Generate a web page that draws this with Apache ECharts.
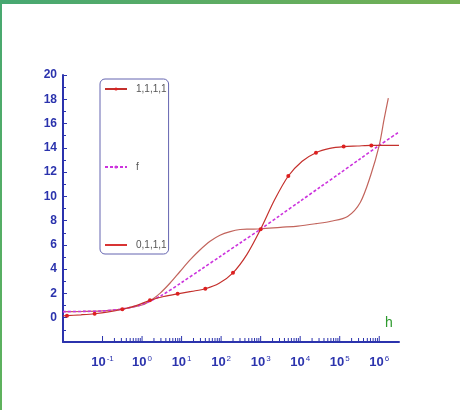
<!DOCTYPE html>
<html><head><meta charset="utf-8">
<script src="https://cdn.jsdelivr.net/npm/echarts@6/dist/echarts.min.js"></script>
<style>html,body{margin:0;padding:0;background:#fff}#c{width:460px;height:410px}</style>
</head><body><div id="c"></div>
<script>
// x values are log10(h)
const curveA_logH = [-2, -1.9, -1.55, -1.2, -0.85, -0.5, -0.15, 0.2, 0.55, 0.9, 1.25, 1.6, 1.95, 2.3, 2.65, 3.0, 3.35, 3.7, 4.05, 4.4, 4.75, 5.1, 5.45, 5.8, 6.15, 6.5];
const curveA_val  = [0.15, 0.17, 0.24, 0.33, 0.48, 0.7, 1.0, 1.43, 1.75, 1.97, 2.17, 2.39, 2.84, 3.7, 5.2, 7.3, 9.7, 11.68, 12.9, 13.6, 13.95, 14.1, 14.15, 14.2, 14.2, 14.2];
const curveA_dotLogH = [-1.9, -1.2, -0.5, 0.2, 0.9, 1.6, 2.3, 3.0, 3.7, 4.4, 5.1, 5.8];
const curveB_logH = [-2, -1.5, -1, -0.5, 0, 0.23, 0.46, 0.71, 0.96, 1.22, 1.47, 1.72, 1.97, 2.23, 2.48, 2.73, 3.0, 3.5, 3.94, 4.4, 4.78, 5.2, 5.52, 5.78, 6.0, 6.12, 6.23];
const curveB_val  = [0.5, 0.52, 0.56, 0.72, 1.05, 1.45, 2.03, 2.86, 3.81, 4.78, 5.6, 6.3, 6.8, 7.1, 7.27, 7.3, 7.33, 7.45, 7.55, 7.75, 7.95, 8.35, 9.5, 11.7, 14.2, 16.3, 18.1];
const curveF_logH = [-2, -1.5, -1, -0.5, 0, 0.5, 1, 1.5, 2, 2.5, 3, 3.5, 4, 4.5, 5, 5.5, 6, 6.5];
const curveF_val  = [0.5, 0.52, 0.56, 0.72, 1.1, 1.85, 2.9, 4.0, 5.1, 6.2, 7.3, 8.45, 9.6, 10.75, 11.9, 13.05, 14.2, 15.3];
const seriesNames = ['1,1,1,1', 'f', '0,1,1,1'];
const xDecadeExp = [-1, 0, 1, 2, 3, 4, 5, 6];
const xMinorMult = [2, 3, 4, 5, 6, 7, 8, 9];
const yTickLabels = [0, 2, 4, 6, 8, 10, 12, 14, 16, 18, 20];

const axisBlue = '#2b33ad';
const fontFam = 'Liberation Sans, Arial, sans-serif';

const dataA = curveA_logH.map((x, i) => curveA_dotLogH.indexOf(x) >= 0 ? [x, curveA_val[i]] : {value: [x, curveA_val[i]], symbol: 'none'});
const dataB = curveB_logH.map((x, i) => [x, curveB_val[i]]);
const dataF = curveF_logH.map((x, i) => [x, curveF_val[i]]);

const tickData = [];
xDecadeExp.forEach(e => {
  tickData.push([e, 1]);
  if (e < 6) xMinorMult.forEach(m => tickData.push([e + Math.log10(m), 0]));
});

const chart = echarts.init(document.getElementById('c'), null, {renderer: 'canvas'});
chart.setOption({
  animation: false,
  backgroundColor: '#ffffff',
  grid: {left: 63, right: 61, top: 75, bottom: 68, containLabel: false, outerBoundsMode: 'none'},
  graphic: [
    {type: 'rect', left: 0, top: 0, shape: {width: 460, height: 4}, silent: true,
     style: {fill: new echarts.graphic.LinearGradient(0, 0, 1, 0, [{offset: 0, color: '#47a872'}, {offset: 1, color: '#74b053'}])}},
    {type: 'rect', left: 0, top: 0, shape: {width: 2, height: 410}, silent: true,
     style: {fill: new echarts.graphic.LinearGradient(0, 0, 0, 1, [{offset: 0, color: '#48a870'}, {offset: 1, color: '#5fb25c'}])}}
  ],
  legend: {
    orient: 'vertical', left: 100, top: 79,
    padding: [4, 2, 3, 4], itemGap: 66, itemWidth: 22, itemHeight: 4,
    borderColor: '#6464b0', borderWidth: 1, borderRadius: 5,
    selectedMode: false,
    textStyle: {fontSize: 10, color: '#555', fontFamily: fontFam, lineHeight: 12, padding: [0, 0, 0, 4]},
    lineStyle: {width: 2},
    data: [
      {name: seriesNames[0]},
      {name: seriesNames[1]},
      {name: seriesNames[2], icon: 'path://M0,0L22,0L22,2L0,2Z', itemStyle: {color: '#d83434'}}
    ]
  },
  xAxis: {
    type: 'value', min: -2, max: 6.5, interval: 1,
    axisLine: {show: true, onZero: false, lineStyle: {color: axisBlue, width: 2}},
    axisTick: {show: false}, splitLine: {show: false},
    axisLabel: {
      margin: 13,
      formatter: v => (Number.isInteger(v) && xDecadeExp.indexOf(v) >= 0) ? '{b|10}{s|' + v + '}' : '',
      rich: {
        b: {fontSize: 13, fontWeight: 'bold', color: axisBlue, fontFamily: fontFam},
        s: {fontSize: 8, color: axisBlue, fontFamily: fontFam, padding: [0, 0, 7, 1]}
      }
    },
    name: 'h', nameLocation: 'end', nameGap: -14,
    nameTextStyle: {color: '#2e9a2e', fontSize: 14, fontFamily: fontFam, verticalAlign: 'bottom', align: 'left', padding: [0, 0, 12, 0]}
  },
  yAxis: {
    type: 'value', min: -2, max: 20, interval: 2,
    axisLine: {show: true, onZero: false, lineStyle: {color: axisBlue, width: 2}},
    axisTick: {show: true, inside: true, length: 4, lineStyle: {color: axisBlue, width: 1}},
    minorTick: {show: true, splitNumber: 2, length: 3, lineStyle: {color: axisBlue, width: 1}},
    splitLine: {show: false},
    axisLabel: {
      margin: 6, color: axisBlue, fontWeight: 'bold', fontSize: 12, fontFamily: fontFam,
      formatter: v => yTickLabels.indexOf(v) >= 0 ? String(v) : ''
    }
  },
  series: [
    {name: seriesNames[0], type: 'line', data: dataA, smooth: 0.3, symbol: 'circle', symbolSize: 4,
     lineStyle: {color: '#c4302c', width: 1.2}, itemStyle: {color: '#dd2020'}, z: 4},
    {name: seriesNames[1], type: 'line', data: dataF, smooth: 0.3, symbol: 'none',
     lineStyle: {color: '#cc33dd', width: 1.6, type: [3, 2]}, itemStyle: {color: '#cc33dd'}, z: 3},
    {name: seriesNames[2], type: 'line', data: dataB, smooth: 0.3, symbol: 'none',
     lineStyle: {color: '#c2645c', width: 1.2}, itemStyle: {color: '#c2645c'}, z: 2},
    {type: 'custom', silent: true, clip: false, data: tickData, z: 5,
     renderItem: (params, api) => {
       const p = api.coord([api.value(0), -2]);
       const len = api.value(1) ? 5 : 3;
       return {type: 'line', shape: {x1: p[0], y1: p[1] - 1, x2: p[0], y2: p[1] - 1 - len},
               style: {stroke: axisBlue, lineWidth: 1}};
     }}
  ]
});
</script></body></html>
